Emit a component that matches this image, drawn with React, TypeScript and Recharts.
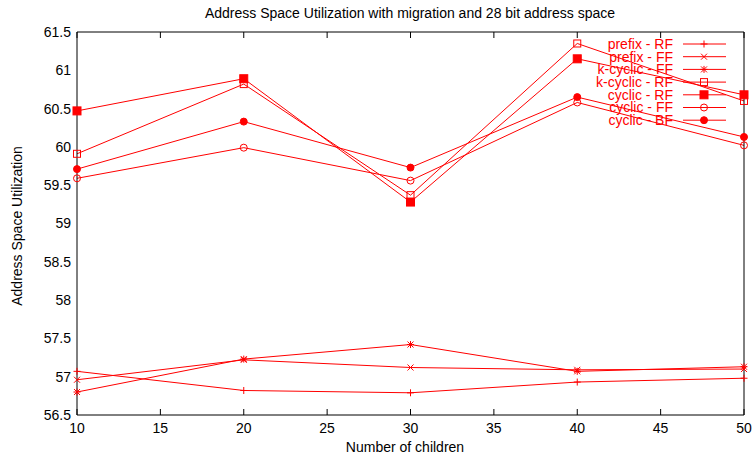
import React from 'react';
import { LineChart, Line, XAxis, YAxis, Legend } from 'recharts';

const children = [10, 20, 30, 40, 50];
const prefixRF = [57.07, 56.82, 56.79, 56.93, 56.98];
const prefixFF = [56.96, 57.22, 57.12, 57.09, 57.1];
const kcyclicFF = [56.8, 57.23, 57.42, 57.07, 57.13];
const kcyclicRF = [59.91, 60.82, 59.37, 61.35, 60.6];
const cyclicRF = [60.47, 60.89, 59.28, 61.15, 60.68];
const cyclicFF = [59.59, 59.99, 59.56, 60.58, 60.02];
const cyclicBF = [59.71, 60.33, 59.73, 60.65, 60.13];

const xTicks = [10, 15, 20, 25, 30, 35, 40, 45, 50];
const yTicks = [56.5, 57, 57.5, 58, 58.5, 59, 59.5, 60, 60.5, 61, 61.5];

const RED = '#ff0000';
const FONT = '"Liberation Sans", Arial, Helvetica, sans-serif';

type Shape = 'plus' | 'cross' | 'star' | 'osquare' | 'fsquare' | 'ocircle' | 'fcircle';

const series: { key: string; name: string; values: number[]; shape: Shape }[] = [
  { key: 'prefixRF', name: 'prefix - RF', values: prefixRF, shape: 'plus' },
  { key: 'prefixFF', name: 'prefix - FF', values: prefixFF, shape: 'cross' },
  { key: 'kcyclicFF', name: 'k-cyclic - FF', values: kcyclicFF, shape: 'star' },
  { key: 'kcyclicRF', name: 'k-cyclic - RF', values: kcyclicRF, shape: 'osquare' },
  { key: 'cyclicRF', name: 'cyclic - RF', values: cyclicRF, shape: 'fsquare' },
  { key: 'cyclicFF', name: 'cyclic - FF', values: cyclicFF, shape: 'ocircle' },
  { key: 'cyclicBF', name: 'cyclic - BF', values: cyclicBF, shape: 'fcircle' },
];

const data = children.map((c, i) => {
  const row: Record<string, number> = { x: c };
  series.forEach((s) => {
    row[s.key] = s.values[i];
  });
  return row;
});

function Marker({ shape, cx, cy }: { shape: Shape; cx: number; cy: number }) {
  const s = 3.5;
  switch (shape) {
    case 'plus':
      return (
        <g stroke={RED} strokeWidth={1}>
          <line x1={cx - s} y1={cy} x2={cx + s} y2={cy} />
          <line x1={cx} y1={cy - s} x2={cx} y2={cy + s} />
        </g>
      );
    case 'cross':
      return (
        <g stroke={RED} strokeWidth={1}>
          <line x1={cx - 3} y1={cy - 3} x2={cx + 3} y2={cy + 3} />
          <line x1={cx - 3} y1={cy + 3} x2={cx + 3} y2={cy - 3} />
        </g>
      );
    case 'star':
      return (
        <g stroke={RED} strokeWidth={1}>
          <line x1={cx - s} y1={cy} x2={cx + s} y2={cy} />
          <line x1={cx} y1={cy - s} x2={cx} y2={cy + s} />
          <line x1={cx - 3} y1={cy - 3} x2={cx + 3} y2={cy + 3} />
          <line x1={cx - 3} y1={cy + 3} x2={cx + 3} y2={cy - 3} />
        </g>
      );
    case 'osquare':
      return <rect x={cx - 3.5} y={cy - 3.5} width={7} height={7} fill="none" stroke={RED} strokeWidth={1} />;
    case 'fsquare':
      return <rect x={cx - 4} y={cy - 4} width={8} height={8} fill={RED} stroke={RED} strokeWidth={1} />;
    case 'ocircle':
      return <circle cx={cx} cy={cy} r={3.5} fill="none" stroke={RED} strokeWidth={1} />;
    case 'fcircle':
      return <circle cx={cx} cy={cy} r={3.5} fill={RED} stroke={RED} strokeWidth={1} />;
  }
  return null;
}

const makeDot = (shape: Shape) => (props: any) => {
  const { cx, cy, index } = props;
  if (cx == null || cy == null) return <g key={index} />;
  return (
    <g key={index}>
      <Marker shape={shape} cx={cx} cy={cy} />
    </g>
  );
};

function LegendContent() {
  const textRight = 93;
  const lineX1 = 103;
  const lineX2 = 146;
  const markX = 124;
  return (
    <svg width={170} height={100} style={{ overflow: 'visible', display: 'block' }}>
      {series.map((s, i) => {
        const y = 8 + i * 12.7;
        return (
          <g key={s.key}>
            <text
              x={textRight}
              y={y}
              dy="0.35em"
              textAnchor="end"
              fill={RED}
              fontSize={14}
              fontFamily={FONT}
            >
              {s.name}
            </text>
            <line x1={lineX1} y1={y} x2={lineX2} y2={y} stroke={RED} strokeWidth={1} />
            <Marker shape={s.shape} cx={markX} cy={y} />
          </g>
        );
      })}
    </svg>
  );
}

const blank = () => '';

export default function App() {
  return (
    <div style={{ position: 'absolute', left: 0, top: 0, width: 754, height: 459, background: '#fff' }}>
      <LineChart
        width={754}
        height={459}
        data={data}
        margin={{ top: 32, right: 10, bottom: 14, left: 0 }}
        style={{ fontFamily: FONT }}
      >
        <XAxis
          xAxisId="main"
          dataKey="x"
          type="number"
          domain={[10, 50]}
          ticks={xTicks}
          height={30}
          tickLine={false}
          axisLine={{ stroke: '#000', strokeWidth: 1 }}
          tick={{ fill: '#000', fontSize: 14, fontFamily: FONT }}
          tickSize={6}
          tickMargin={2}
          interval={0}
        />
        <XAxis
          xAxisId="bottomTicks"
          dataKey="x"
          type="number"
          domain={[10, 50]}
          ticks={xTicks}
          orientation="bottom"
          mirror
          axisLine={false}
          tickLine={{ stroke: '#000', strokeWidth: 1 }}
          tickSize={6}
          tickFormatter={blank}
          interval={0}
        />
        <XAxis
          xAxisId="top"
          dataKey="x"
          type="number"
          domain={[10, 50]}
          ticks={xTicks}
          orientation="top"
          mirror
          axisLine={{ stroke: '#000', strokeWidth: 1 }}
          tickLine={{ stroke: '#000', strokeWidth: 1 }}
          tickSize={6}
          tickFormatter={blank}
          interval={0}
        />
        <YAxis
          yAxisId="main"
          type="number"
          domain={[56.5, 61.5]}
          ticks={yTicks}
          width={77}
          tickLine={false}
          axisLine={{ stroke: '#000', strokeWidth: 1 }}
          tick={{ fill: '#000', fontSize: 14, fontFamily: FONT }}
          tickSize={6}
          tickMargin={0}
          interval={0}
        />
        <YAxis
          yAxisId="leftTicks"
          type="number"
          domain={[56.5, 61.5]}
          ticks={yTicks}
          orientation="left"
          mirror
          axisLine={false}
          tickLine={{ stroke: '#000', strokeWidth: 1 }}
          tickSize={6}
          tickFormatter={blank}
          interval={0}
        />
        <YAxis
          yAxisId="right"
          type="number"
          domain={[56.5, 61.5]}
          ticks={yTicks}
          orientation="right"
          mirror
          axisLine={{ stroke: '#000', strokeWidth: 1 }}
          tickLine={{ stroke: '#000', strokeWidth: 1 }}
          tickSize={6}
          tickFormatter={blank}
          interval={0}
        />
        {series.map((s) => (
          <Line
            key={s.key}
            xAxisId="main"
            yAxisId="main"
            type="linear"
            dataKey={s.key}
            name={s.name}
            stroke={RED}
            strokeWidth={1}
            dot={makeDot(s.shape)}
            activeDot={false}
            isAnimationActive={false}
          />
        ))}
        <Legend
          layout="vertical"
          align="center"
          verticalAlign="middle"
          content={() => <LegendContent />}
          wrapperStyle={{ position: 'absolute', left: 580, top: 36, width: 170, height: 100 }}
        />
        <text x={410} y={18} textAnchor="middle" fontSize={14} fontFamily={FONT} fill="#000">
          Address Space Utilization with migration and 28 bit address space
        </text>
        <text x={405} y={452} textAnchor="middle" fontSize={14} fontFamily={FONT} fill="#000">
          Number of children
        </text>
        <text
          x={22}
          y={226}
          textAnchor="middle"
          fontSize={14}
          fontFamily={FONT}
          fill="#000"
          transform="rotate(-90 22 226)"
        >
          Address Space Utilization
        </text>
      </LineChart>
    </div>
  );
}
